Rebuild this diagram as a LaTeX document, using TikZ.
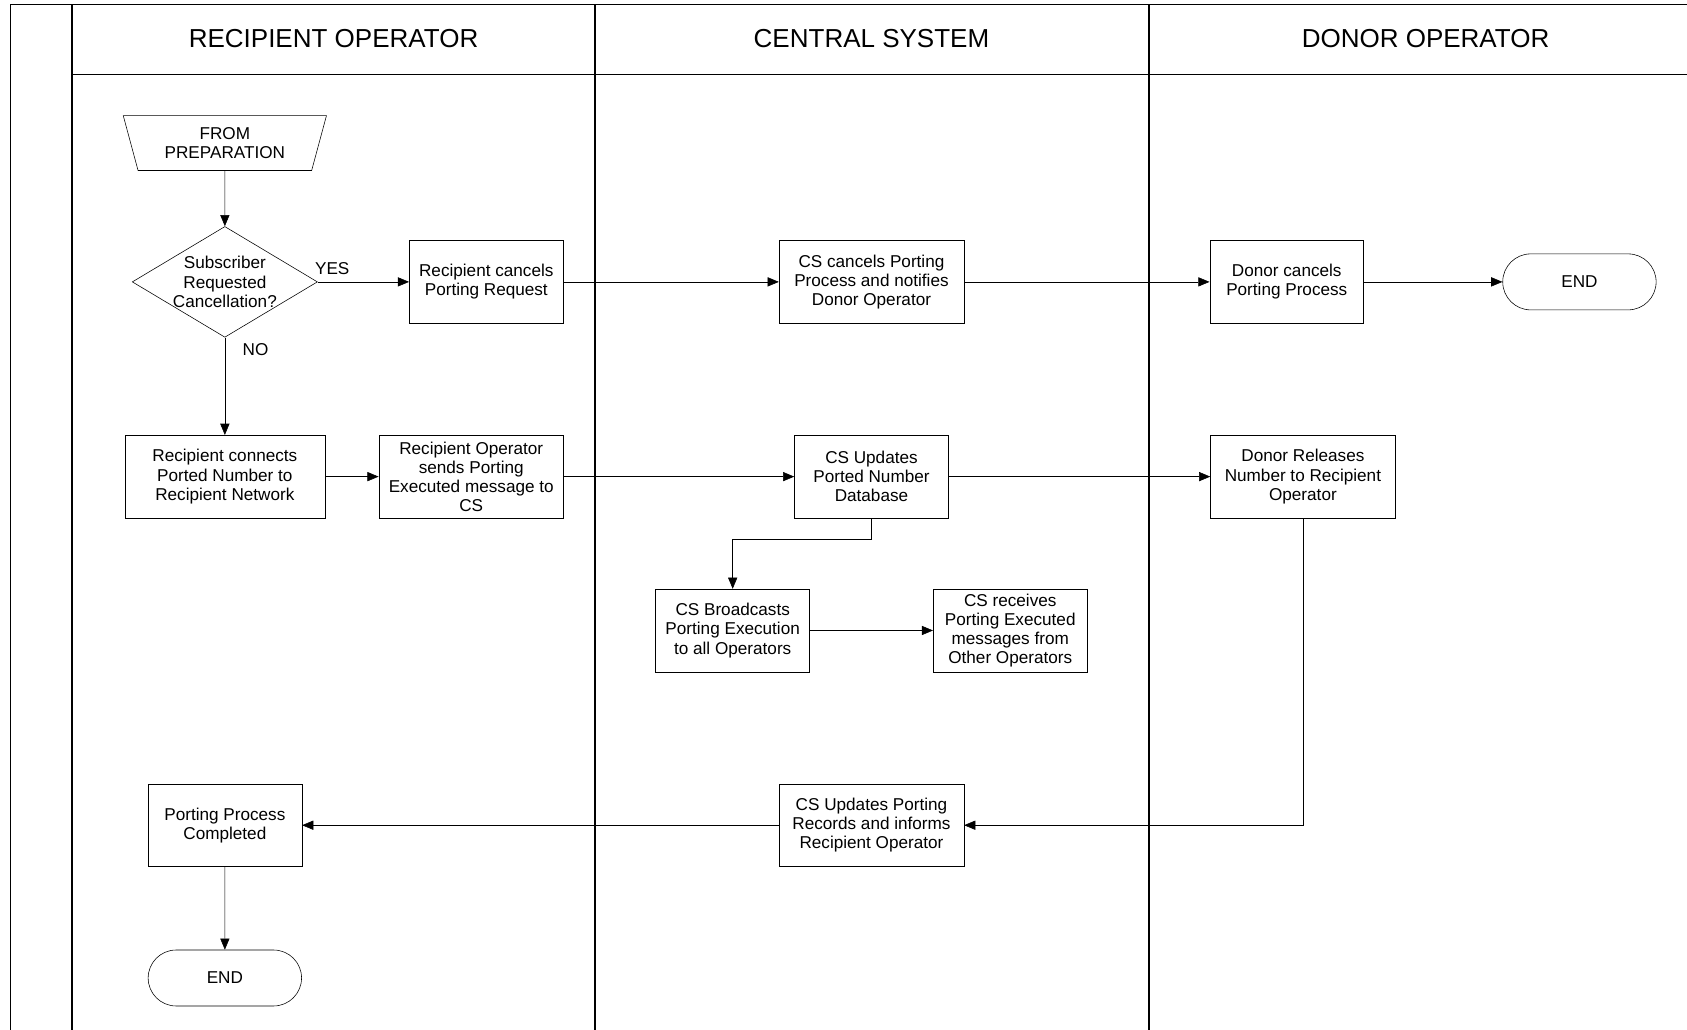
\documentclass[tikz,border=0pt]{standalone}
\usepackage{fontspec}
\setmainfont{Liberation Sans}
\usetikzlibrary{shapes.geometric,shapes.misc,arrows.meta}
\begin{document}
\begin{tikzpicture}[
            x=0.0269cm, y=-0.0269cm,
            every node/.style={font=\fontsize{12.2}{13.6}\selectfont, align=center},
            box/.style={draw, rectangle, minimum width=3.85cm, minimum height=2.07cm, inner sep=2pt},
            widebox/.style={box, minimum width=4.62cm},
            terminal/.style={draw, rounded rectangle, minimum width=4.07cm, minimum height=1.40cm},
            decision/.style={draw, diamond, minimum width=4.63cm, minimum height=2.77cm, inner sep=0pt},
            offpage/.style={draw, trapezium, shape border rotate=180, trapezium angle=70,
                            trapezium stretches body, minimum width=5.08cm, minimum height=1.37cm},
            lane/.style={font=\fontsize{18.5}{21}\selectfont},
            frame/.style={line width=0.9pt},
            flow/.style={-{Triangle[length=0.28cm,width=0.23cm]}}
            ]
            \useasboundingbox (0,0) rectangle (1568,957);
            % swimlanes
            \draw[frame] (10,957) -- (10,4) -- (1568,4);
            \draw[frame] (67,4) -- (67,957);
            \draw[frame] (553,4) -- (553,957);
            \draw[frame] (1068,4) -- (1068,957);
            \draw[frame] (67,69) -- (1568,69);
            \node[lane] (recipient) at (310,36) {RECIPIENT OPERATOR};
            \node[lane] (central) at (810,36) {CENTRAL SYSTEM};
            \node[lane] (donor) at (1325,36) {DONOR OPERATOR};

            % cancellation row
            \node[offpage] (prep) at (209,133) {FROM\\PREPARATION};
            \node[decision, label={[align=center]center:Subscriber\\Requested\\Cancellation?}] (dec) at (209,262) {};
            \node[box] (rcancel) at (452,262) {Recipient cancels\\Porting Request};
            \node[widebox] (cscancel) at (810,262) {CS cancels Porting\\Process and notifies\\Donor Operator};
            \node[box] (dcancel) at (1196,262) {Donor cancels\\Porting Process};
            \node[terminal] (end1) at (1468,262) {END};

            % execution row
            \node[box, minimum width=5cm] (rconnect) at (209,443) {Recipient connects\\Ported Number to\\Recipient Network};
            \node[widebox] (rsend) at (438,443) {Recipient Operator\\sends Porting\\Executed message to\\CS};
            \node[box] (csupdate) at (810,443) {CS Updates\\Ported Number\\Database};
            \node[widebox] (drelease) at (1211,443) {Donor Releases\\Number to Recipient\\Operator};
            \node[box] (broadcast) at (681,586) {CS Broadcasts\\Porting Execution\\to all Operators};
            \node[box] (receive) at (939,586) {CS receives\\Porting Executed\\messages from\\Other Operators};
            \coordinate (bend) at (810,501);

            % completion row
            \node[widebox] (csrecords) at (810,767) {CS Updates Porting\\Records and informs\\Recipient Operator};
            \node[box] (done) at (209,767) {Porting Process\\Completed};
            \node[terminal] (end2) at (209,909) {END};

            \draw[flow] (prep) -- (dec);
            \draw[flow] (dec.east) -- node[pos=0, anchor=south west, xshift=-0.19cm, yshift=0.06cm] (yes) {YES} (rcancel.west);
            \draw[flow] (dec.south) -- node[pos=0, anchor=north west, xshift=0.32cm, yshift=-1pt] (no) {NO} (rconnect.north);
            \draw[flow] (rcancel) -- (cscancel);
            \draw[flow] (cscancel) -- (dcancel);
            \draw[flow] (dcancel) -- (end1);
            \draw[flow] (rconnect) -- (rsend);
            \draw[flow] (rsend) -- (csupdate);
            \draw[flow] (csupdate) -- (drelease);
            \draw[flow] (csupdate.south) -- (bend) -| (broadcast.north);
            \draw[flow] (broadcast) -- (receive);
            \draw[flow] (drelease.south) |- (csrecords.east);
            \draw[flow] (csrecords) -- (done);
            \draw[flow] (done) -- (end2);
        \end{tikzpicture}
\end{document}
